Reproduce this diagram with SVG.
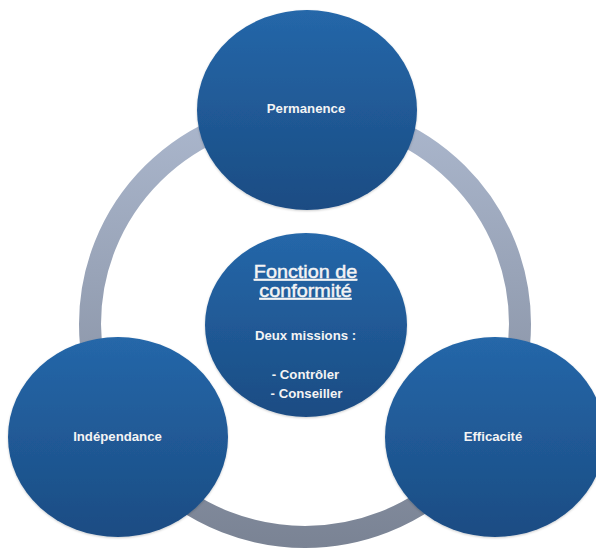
<svg xmlns="http://www.w3.org/2000/svg" width="596" height="548" viewBox="0 0 596 548">
  <style>
    .node { fill: url(#nodeGrad); filter: url(#soft); }
    .lbl { font-family: "Liberation Sans", Arial, sans-serif; font-weight: bold; font-size: 12px; fill: #f4f4f4; text-anchor: middle; }
    .title { font-family: "Liberation Sans", Arial, sans-serif; font-weight: normal; font-size: 18px; fill: #f4f4f4; stroke: #f4f4f4; stroke-width: 0.45; text-anchor: middle; text-decoration: underline; }
  </style>
  <defs>
    <linearGradient id="nodeGrad" x1="0" y1="0" x2="0" y2="1">
      <stop offset="0" stop-color="#2567a9"/>
      <stop offset="1" stop-color="#1b4c83"/>
    </linearGradient>
    <linearGradient id="ringGrad" gradientUnits="userSpaceOnUse" x1="0" y1="110" x2="0" y2="548">
      <stop offset="0" stop-color="#abb7cd"/>
      <stop offset="1" stop-color="#7a8394"/>
    </linearGradient>
    <filter id="soft" x="-10%" y="-10%" width="120%" height="125%">
      <feDropShadow dx="0" dy="1" stdDeviation="1.2" flood-color="#000" flood-opacity="0.2"/>
    </filter>
  </defs>
  <rect width="596" height="548" fill="#ffffff"/>

  <g id="connectors">
    <ellipse cx="305" cy="324" rx="215" ry="213" fill="none" stroke="url(#ringGrad)" stroke-width="22"/>
  </g>

  <g id="permanence">
    <ellipse class="node" cx="307" cy="110" rx="110" ry="100"/>
    <text class="lbl" transform="matrix(1.1 0 0 1 306 113)" x="0" y="0">Permanence</text>
  </g>

  <g id="independance">
    <ellipse class="node" cx="118" cy="437" rx="110" ry="100"/>
    <text class="lbl" transform="matrix(1.1 0 0 1 117.5 441)" x="0" y="0">Indépendance</text>
  </g>

  <g id="efficacite">
    <ellipse class="node" cx="495" cy="437" rx="110" ry="100"/>
    <text class="lbl" transform="matrix(1.1 0 0 1 493 441)" x="0" y="0">Efficacité</text>
  </g>

  <g id="fonction">
    <ellipse class="node" cx="306" cy="325" rx="101" ry="92"/>
    <text class="title" transform="matrix(1.1 0 0 1 305.5 278)" x="0" y="0">Fonction de</text>
    <text class="title" transform="matrix(1.1 0 0 1 305.5 297)" x="0" y="0">conformité</text>
    <text class="lbl" transform="matrix(1.1 0 0 1 305.5 340)" x="0" y="0">Deux missions :</text>
    <text class="lbl" transform="matrix(1.1 0 0 1 305.5 379)" x="0" y="0">- Contrôler</text>
    <text class="lbl" transform="matrix(1.1 0 0 1 306.5 398)" x="0" y="0">- Conseiller</text>
  </g>
</svg>
